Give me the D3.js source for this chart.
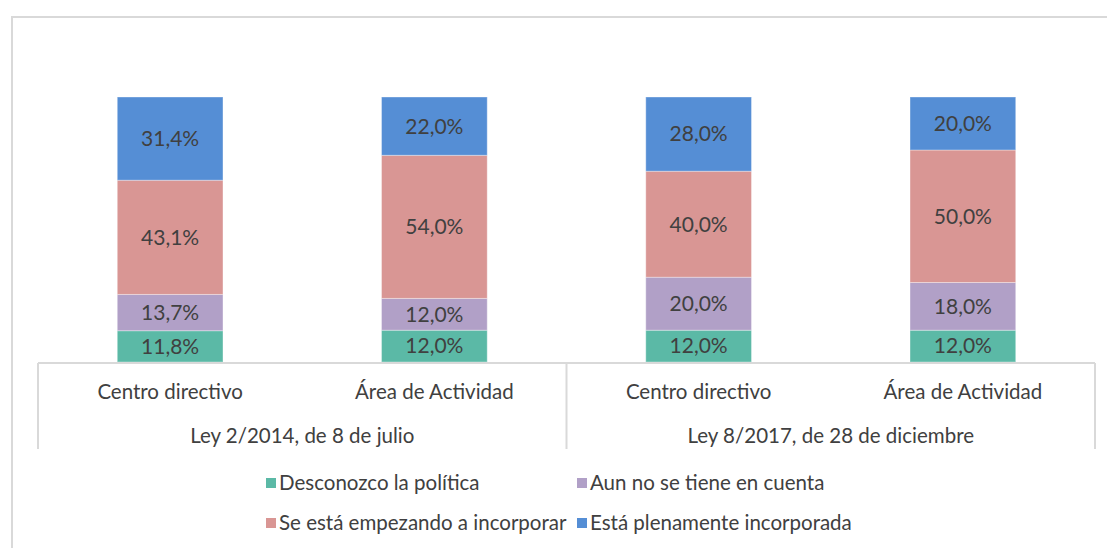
<!DOCTYPE html>
<html>
<head>
<meta charset="utf-8">
<script src="https://cdn.jsdelivr.net/npm/d3@7"></script>
<style>
  body { margin: 0; background: #fff; }
  text { font-family: Lato, "Open Sans", sans-serif; fill: #404040; }
</style>
</head>
<body>
<script>
// data
const groups = ["Ley 2/2014, de 8 de julio", "Ley 8/2017, de 28 de diciembre"]
const categories = ["Centro directivo", "Área de Actividad", "Centro directivo", "Área de Actividad"]
const seriesNames = ["Desconozco la política", "Aun no se tiene en cuenta",
  "Se está empezando a incorporar", "Está plenamente incorporada"]
const desconozco = [11.8, 12.0, 12.0, 12.0]
const aunNo = [13.7, 12.0, 20.0, 18.0]
const empezando = [43.1, 54.0, 40.0, 50.0]
const plenamente = [31.4, 22.0, 28.0, 20.0]
const colors = ["#5bb9a6", "#b1a0c7", "#d99694", "#558ed5"]

let width = 1107, height = 548
let svg = d3.select("body").append("svg")
  .attr("width", width)
  .attr("height", height)

// outer frame
svg.append("rect")
  .attr("x", 12).attr("y", 17)
  .attr("width", width).attr("height", height)
  .attr("fill", "none")
  .attr("stroke", "#d9d9d9")
  .attr("stroke-width", 2)

let plotLeft = 38, plotRight = 1095, plotTop = 97, plotBottom = 362

let table = categories.map((c, i) => ({
  key: i, cat: c,
  s0: desconozco[i], s1: aunNo[i], s2: empezando[i], s3: plenamente[i]
}))
let stacked = d3.stack().keys(["s0", "s1", "s2", "s3"])(table)

let x = d3.scaleBand().domain(d3.range(categories.length))
  .range([plotLeft, plotRight]).paddingInner(0.6).paddingOuter(0.3)
let y = d3.scaleLinear().domain([0, 100]).range([plotBottom, plotTop])
let gx = d3.scaleBand().domain(d3.range(groups.length)).range([plotLeft, plotRight])

let layers = svg.append("g").selectAll("g")
  .data(stacked)
  .enter().append("g")
    .attr("fill", (d, i) => colors[i])

layers.selectAll("rect")
  .data(d => d)
  .enter().append("rect")
    .attr("x", d => x(d.data.key))
    .attr("y", d => y(d[1]))
    .attr("width", x.bandwidth())
    .attr("height", d => y(d[0]) - y(d[1]))
    .attr("stroke", "#ffffff")
    .attr("stroke-opacity", 0.35)
    .attr("stroke-width", 1)

layers.selectAll("text")
  .data(d => d)
  .enter().append("text")
    .attr("x", d => x(d.data.key) + x.bandwidth() / 2)
    .attr("y", d => (y(d[0]) + y(d[1])) / 2)
    .attr("dy", "0.35em")
    .attr("text-anchor", "middle")
    .attr("font-size", "21px")
    .text(d => (d[1] - d[0]).toFixed(1).replace(".", ",") + "%")

// category axis with group lines
let axis = svg.append("g").attr("stroke", "#d9d9d9").attr("stroke-width", 2)
axis.append("line")
  .attr("x1", plotLeft).attr("x2", plotRight)
  .attr("y1", plotBottom + 1).attr("y2", plotBottom + 1)
let seps = [plotLeft].concat(groups.map((g, i) => gx(i) + gx.bandwidth()))
axis.selectAll("line.sep")
  .data(seps)
  .enter().append("line")
    .attr("class", "sep")
    .attr("x1", d => d).attr("x2", d => d)
    .attr("y1", plotBottom + 1).attr("y2", 449)

svg.append("g").selectAll("text")
  .data(categories)
  .enter().append("text")
    .attr("x", (d, i) => x(i) + x.bandwidth() / 2)
    .attr("y", 392)
    .attr("dy", "0.35em")
    .attr("text-anchor", "middle")
    .attr("font-size", "20.5px")
    .text(d => d)

svg.append("g").selectAll("text")
  .data(groups)
  .enter().append("text")
    .attr("x", (d, i) => gx(i) + gx.bandwidth() / 2)
    .attr("y", 436)
    .attr("dy", "0.35em")
    .attr("text-anchor", "middle")
    .attr("font-size", "20.5px")
    .text(d => d)

// legend
let legendX = [266, 577], legendY = [483, 523]
let legend = svg.append("g").selectAll("g")
  .data(seriesNames)
  .enter().append("g")
    .attr("transform", (d, i) => `translate(${legendX[i % 2]},${legendY[Math.floor(i / 2)]})`)
legend.append("rect")
  .attr("x", 0).attr("y", -5)
  .attr("width", 10).attr("height", 10)
  .attr("fill", (d, i) => colors[i])
legend.append("text")
  .attr("x", 13)
  .attr("dy", "0.35em")
  .attr("font-size", "20.5px")
  .attr("fill", "#595959")
  .text(d => d)
</script>
</body>
</html>
